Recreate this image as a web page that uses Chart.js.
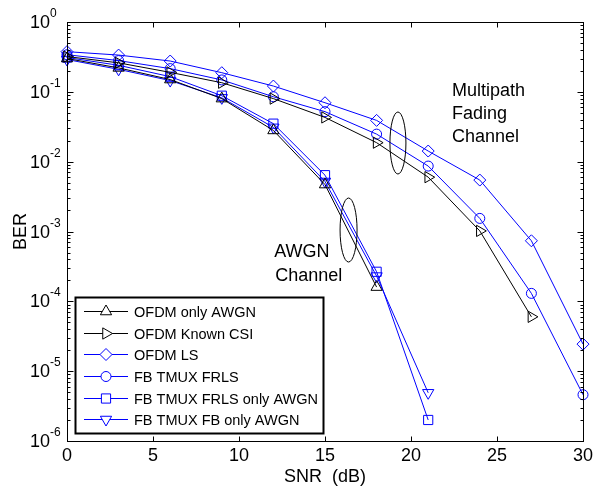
<!DOCTYPE html>
<html><head><meta charset="utf-8">
<script src="https://cdn.jsdelivr.net/npm/chart.js@4/dist/chart.umd.min.js"></script>
<style>html,body{margin:0;padding:0;background:#fff}</style>
</head><body>
<canvas id="c" width="600" height="493"></canvas>
<script>
// SNR (dB) sample points
const snr = [0, 3, 6, 9, 12, 15, 18, 21, 24, 27, 30];
// BER series
const ofdmOnlyAwgn   = [0.30, 0.22, 0.15, 0.08, 0.028, 0.0047, 1.6e-4];
const ofdmKnownCsi   = [0.32, 0.26, 0.19, 0.135, 0.08, 0.043, 0.0187, 0.006, 0.00102, 6e-5];
const ofdmLs         = [0.376, 0.336, 0.276, 0.188, 0.121, 0.0698, 0.039, 0.0142, 0.00545, 0.000736, 2.44e-5];
const fbTmuxFrls     = [0.34, 0.28, 0.215, 0.148, 0.085, 0.052, 0.0248, 0.00865, 0.00154, 1.3e-4, 4.6e-6];
const fbFrlsOnlyAwgn = [0.31, 0.24, 0.165, 0.088, 0.035, 0.0064, 2.65e-4, 2.0e-6];
const fbFbOnlyAwgn   = [0.29, 0.21, 0.145, 0.082, 0.031, 0.0052, 2.3e-4, 4.9e-6];
// tick labels
const xTicks = [0, 5, 10, 15, 20, 25, 30];
const yExponents = [0, -1, -2, -3, -4, -5, -6];
const legendLabels = ['OFDM only AWGN', 'OFDM Known CSI', 'OFDM LS', 'FB TMUX FRLS', 'FB TMUX FRLS only AWGN', 'FB TMUX FB only AWGN'];

const FONT = '"Liberation Sans", Arial, sans-serif';
const BLACK = '#000000', BLUE = '#0000ff';
const TRANSP = 'rgba(0,0,0,0)';

function pts(vals){ return vals.map((v,i)=>({x: snr[i], y: v})); }

const styles = [
  {c: BLACK, ps: 'triangle', rot: 0, r: 6.5},
  {c: BLACK, ps: 'triangle', rot: 90, r: 6.5},
  {c: BLUE, ps: 'rectRot', rot: 0, r: 6},
  {c: BLUE, ps: 'circle', rot: 0, r: 5},
  {c: BLUE, ps: 'rect', rot: 0, r: 6.5},
  {c: BLUE, ps: 'triangle', rot: 180, r: 6.5},
];
const series = [ofdmOnlyAwgn, ofdmKnownCsi, ofdmLs, fbTmuxFrls, fbFrlsOnlyAwgn, fbFbOnlyAwgn];

const datasets = series.map((s, i) => ({
  label: legendLabels[i],
  data: pts(s),
  borderColor: styles[i].c,
  backgroundColor: TRANSP,
  borderWidth: 1,
  pointStyle: styles[i].ps,
  pointRotation: styles[i].rot,
  pointRadius: styles[i].r,
  pointBorderColor: styles[i].c,
  pointBackgroundColor: TRANSP,
  pointBorderWidth: 1,
  tension: 0,
  clip: false
}));

const decor = {
  id: 'decor',
  afterDraw(chart){
    const {ctx, chartArea: a, scales: {x, y}} = chart;
    ctx.save();
    ctx.strokeStyle = BLACK; ctx.fillStyle = BLACK; ctx.lineWidth = 1;
    const L = Math.round(a.left)+0.5, R = Math.round(a.right)+0.5, T = Math.round(a.top)+0.5, B = Math.round(a.bottom)+0.5;
    ctx.strokeRect(L, T, R-L, B-T);
    ctx.beginPath();
    xTicks.forEach(v => {
      const px = Math.round(x.getPixelForValue(v))+0.5;
      ctx.moveTo(px, B); ctx.lineTo(px, B-5);
      ctx.moveTo(px, T); ctx.lineTo(px, T+5);
    });
    yExponents.forEach(e => {
      const py = Math.round(y.getPixelForValue(Math.pow(10, e)))+0.5;
      ctx.moveTo(L, py); ctx.lineTo(L+6, py);
      ctx.moveTo(R, py); ctx.lineTo(R-6, py);
      if (e > -6) {
        for (let m = 2; m <= 9; m++) {
          const pm = Math.round(y.getPixelForValue(m*Math.pow(10, e-1)))+0.5;
          ctx.moveTo(L, pm); ctx.lineTo(L+3, pm);
          ctx.moveTo(R, pm); ctx.lineTo(R-3, pm);
        }
      }
    });
    ctx.stroke();
    ctx.font = '18px ' + FONT;
    ctx.textAlign = 'center'; ctx.textBaseline = 'alphabetic';
    xTicks.forEach(v => ctx.fillText(String(v), x.getPixelForValue(v), 461));
    yExponents.forEach(e => {
      const py = y.getPixelForValue(Math.pow(10, e));
      ctx.font = '18px ' + FONT; ctx.textAlign = 'right';
      ctx.fillText('10', a.left - 17, py + 6);
      ctx.font = '12px ' + FONT; ctx.textAlign = 'left';
      ctx.fillText(String(e), a.left - 17, py - 5);
    });
    ctx.font = '18px ' + FONT; ctx.textAlign = 'center';
    ctx.fillText('SNR  (dB)', (a.left + a.right)/2, 482);
    ctx.save();
    ctx.translate(26, (a.top + a.bottom)/2);
    ctx.rotate(-Math.PI/2);
    ctx.fillText('BER', 0, 0);
    ctx.restore();
    ctx.font = '18px ' + FONT; ctx.textAlign = 'left';
    const mx = x.getPixelForValue(22.38);
    ctx.fillText('Multipath', mx, 96);
    ctx.fillText('Fading', mx, 119);
    ctx.fillText('Channel', mx, 142);
    const ax = x.getPixelForValue(12.05);
    ctx.fillText('AWGN', ax, 257);
    ctx.fillText('Channel', ax + 1, 281);
    ctx.beginPath();
    ctx.ellipse(x.getPixelForValue(19.24), y.getPixelForValue(0.0185), 8, 31, 0, 0, Math.PI*2);
    ctx.stroke();
    ctx.beginPath();
    ctx.ellipse(x.getPixelForValue(16.37), y.getPixelForValue(0.00105), 8.5, 32, 0, 0, Math.PI*2);
    ctx.stroke();
    // legend
    const lx = 75.5, ly = 297.5, lw = 248, lh = 136;
    ctx.fillStyle = '#fff';
    ctx.fillRect(lx, ly, lw, lh);
    ctx.lineWidth = 2; ctx.strokeStyle = BLACK;
    ctx.strokeRect(lx, ly, lw, lh);
    ctx.font = '14.5px ' + FONT; ctx.textBaseline = 'middle'; ctx.textAlign = 'left';
    legendLabels.forEach((lab, i) => {
      const yy = Math.round(311 + i*21.65) + 0.5;
      const st = styles[i];
      ctx.strokeStyle = st.c; ctx.lineWidth = 1;
      ctx.beginPath(); ctx.moveTo(84, yy); ctx.lineTo(128, yy); ctx.stroke();
      ctx.fillStyle = '#ffffff';
      Chart.helpers.drawPoint(ctx, {pointStyle: st.ps, rotation: st.rot, radius: st.r, borderWidth: 1}, 106, yy);
      ctx.fillStyle = BLACK;
      ctx.fillText(lab, 134, yy + 1);
    });
    ctx.restore();
  }
};

new Chart(document.getElementById('c'), {
  type: 'line',
  data: { datasets },
  options: {
    responsive: false,
    animation: false,
    devicePixelRatio: 1,
    layout: { padding: { left: 67, right: 17, top: 22, bottom: 52 } },
    plugins: { legend: { display: false }, tooltip: { enabled: false } },
    scales: {
      x: { type: 'linear', min: 0, max: 30, display: false },
      y: { type: 'logarithmic', min: 1e-6, max: 1, display: false }
    }
  },
  plugins: [decor]
});
</script>
</body></html>
